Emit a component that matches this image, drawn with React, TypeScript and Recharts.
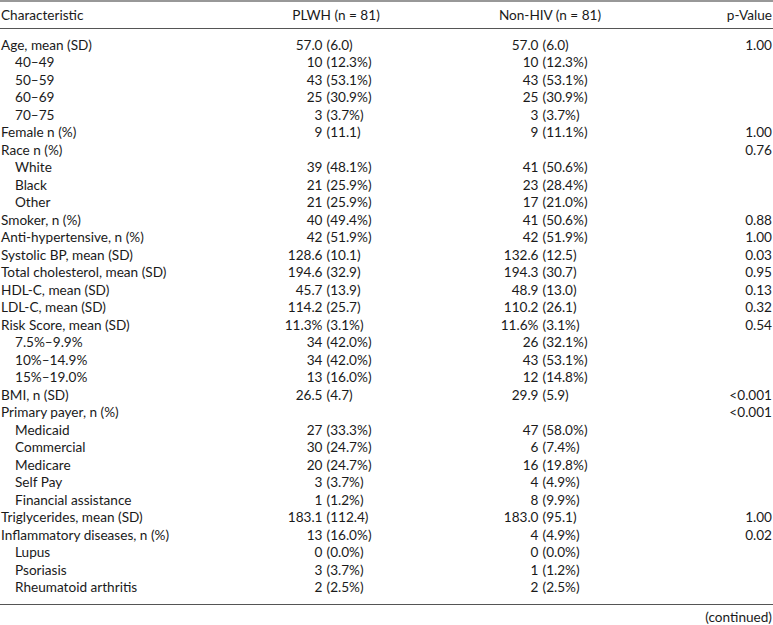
import { BarChart, Bar, XAxis, YAxis, Customized } from "recharts";

const characteristics = [
  "Age, mean (SD)", "40–49", "50–59", "60–69", "70–75",
  "Female n (%)", "Race n (%)", "White", "Black", "Other",
  "Smoker, n (%)", "Anti-hypertensive, n (%)", "Systolic BP, mean (SD)",
  "Total cholesterol, mean (SD)", "HDL-C, mean (SD)", "LDL-C, mean (SD)",
  "Risk Score, mean (SD)", "7.5%–9.9%", "10%–14.9%", "15%–19.0%",
  "BMI, n (SD)", "Primary payer, n (%)", "Medicaid", "Commercial",
  "Medicare", "Self Pay", "Financial assistance", "Triglycerides, mean (SD)",
  "Inflammatory diseases, n (%)", "Lupus", "Psoriasis", "Rheumatoid arthritis",
];

// sub-rows are indented under their parent characteristic
const subRow = [
  false, true, true, true, true,
  false, false, true, true, true,
  false, false, false,
  false, false, false,
  false, true, true, true,
  false, false, true, true,
  true, true, true, false,
  false, true, true, true,
];

const plwh = [
  "57.0 (6.0)", "10 (12.3%)", "43 (53.1%)", "25 (30.9%)", "3 (3.7%)",
  "9 (11.1)", "", "39 (48.1%)", "21 (25.9%)", "21 (25.9%)",
  "40 (49.4%)", "42 (51.9%)", "128.6 (10.1)",
  "194.6 (32.9)", "45.7 (13.9)", "114.2 (25.7)",
  "11.3% (3.1%)", "34 (42.0%)", "34 (42.0%)", "13 (16.0%)",
  "26.5 (4.7)", "", "27 (33.3%)", "30 (24.7%)",
  "20 (24.7%)", "3 (3.7%)", "1 (1.2%)", "183.1 (112.4)",
  "13 (16.0%)", "0 (0.0%)", "3 (3.7%)", "2 (2.5%)",
];

const nonHiv = [
  "57.0 (6.0)", "10 (12.3%)", "43 (53.1%)", "25 (30.9%)", "3 (3.7%)",
  "9 (11.1%)", "", "41 (50.6%)", "23 (28.4%)", "17 (21.0%)",
  "41 (50.6%)", "42 (51.9%)", "132.6 (12.5)",
  "194.3 (30.7)", "48.9 (13.0)", "110.2 (26.1)",
  "11.6% (3.1%)", "26 (32.1%)", "43 (53.1%)", "12 (14.8%)",
  "29.9 (5.9)", "", "47 (58.0%)", "6 (7.4%)",
  "16 (19.8%)", "4 (4.9%)", "8 (9.9%)", "183.0 (95.1)",
  "4 (4.9%)", "0 (0.0%)", "1 (1.2%)", "2 (2.5%)",
];

const pValues = [
  "1.00", "", "", "", "",
  "1.00", "0.76", "", "", "",
  "0.88", "1.00", "0.03",
  "0.95", "0.13", "0.32",
  "0.54", "", "", "",
  "<0.001", "<0.001", "", "",
  "", "", "", "1.00",
  "0.02", "", "", "",
];

const headers = ["Characteristic", "PLWH (n = 81)", "Non-HIV (n = 81)", "p-Value"];

const rows = characteristics.map((name, i) => ({ name, bar: 1, i }));

const FONT = "Lato, 'Open Sans', sans-serif";
const SIZE = 13.6;
const INK = "#1a1a1a";

function split(v: string) {
  const k = v.indexOf(" (");
  if (k < 0) return [v, ""];
  return [v.slice(0, k), v.slice(k + 1)];
}

const common = { fontFamily: FONT, fontSize: SIZE, fill: INK, dominantBaseline: "central" as const };

function RowTick(props: any) {
  const { y, payload } = props;
  const i = characteristics.indexOf(payload.value);
  if (i < 0) return null;
  const [a1, b1] = split(plwh[i]);
  const [a2, b2] = split(nonHiv[i]);
  return (
    <g>
      <text x={subRow[i] ? 15 : 1} y={y} {...common}>{characteristics[i]}</text>
      <text x={322.5} y={y} textAnchor="end" {...common}>{a1}</text>
      <text x={326.5} y={y} {...common}>{b1}</text>
      <text x={538.5} y={y} textAnchor="end" {...common}>{a2}</text>
      <text x={542.5} y={y} {...common}>{b2}</text>
      <text x={772} y={y} textAnchor="end" {...common}>{pValues[i]}</text>
    </g>
  );
}

function Frame() {
  return (
    <g>
      <line x1={0} x2={773} y1={1} y2={1} stroke="#333" strokeWidth={1.2} />
      <line x1={0} x2={773} y1={28.5} y2={28.5} stroke="#555" strokeWidth={1} />
      <line x1={0} x2={773} y1={604.5} y2={604.5} stroke="#555" strokeWidth={1} />
      <text x={1} y={15} {...common}>{headers[0]}</text>
      <text x={336} y={15} textAnchor="middle" {...common}>{headers[1]}</text>
      <text x={550} y={15} textAnchor="middle" {...common}>{headers[2]}</text>
      <text x={772} y={15} textAnchor="end" {...common}>{headers[3]}</text>
      <text x={772} y={617} textAnchor="end" {...common}>(continued)</text>
    </g>
  );
}

export default function App() {
  return (
    <>
      <style>{"body{margin:0;background:#fff}"}</style>
      <BarChart
        width={773}
        height={625}
        data={rows}
        layout="vertical"
        margin={{ top: 35.75, right: 0, bottom: 29.25, left: -1 }}
      >
        <XAxis type="number" domain={[0, 1]} hide />
        <YAxis
          type="category"
          dataKey="name"
          width={1}
          interval={0}
          axisLine={false}
          tickLine={false}
          tick={(p: any) => <RowTick {...p} />}
        />
        <Bar dataKey="bar" fill="transparent" isAnimationActive={false} />
        <Customized component={<Frame />} />
      </BarChart>
    </>
  );
}
